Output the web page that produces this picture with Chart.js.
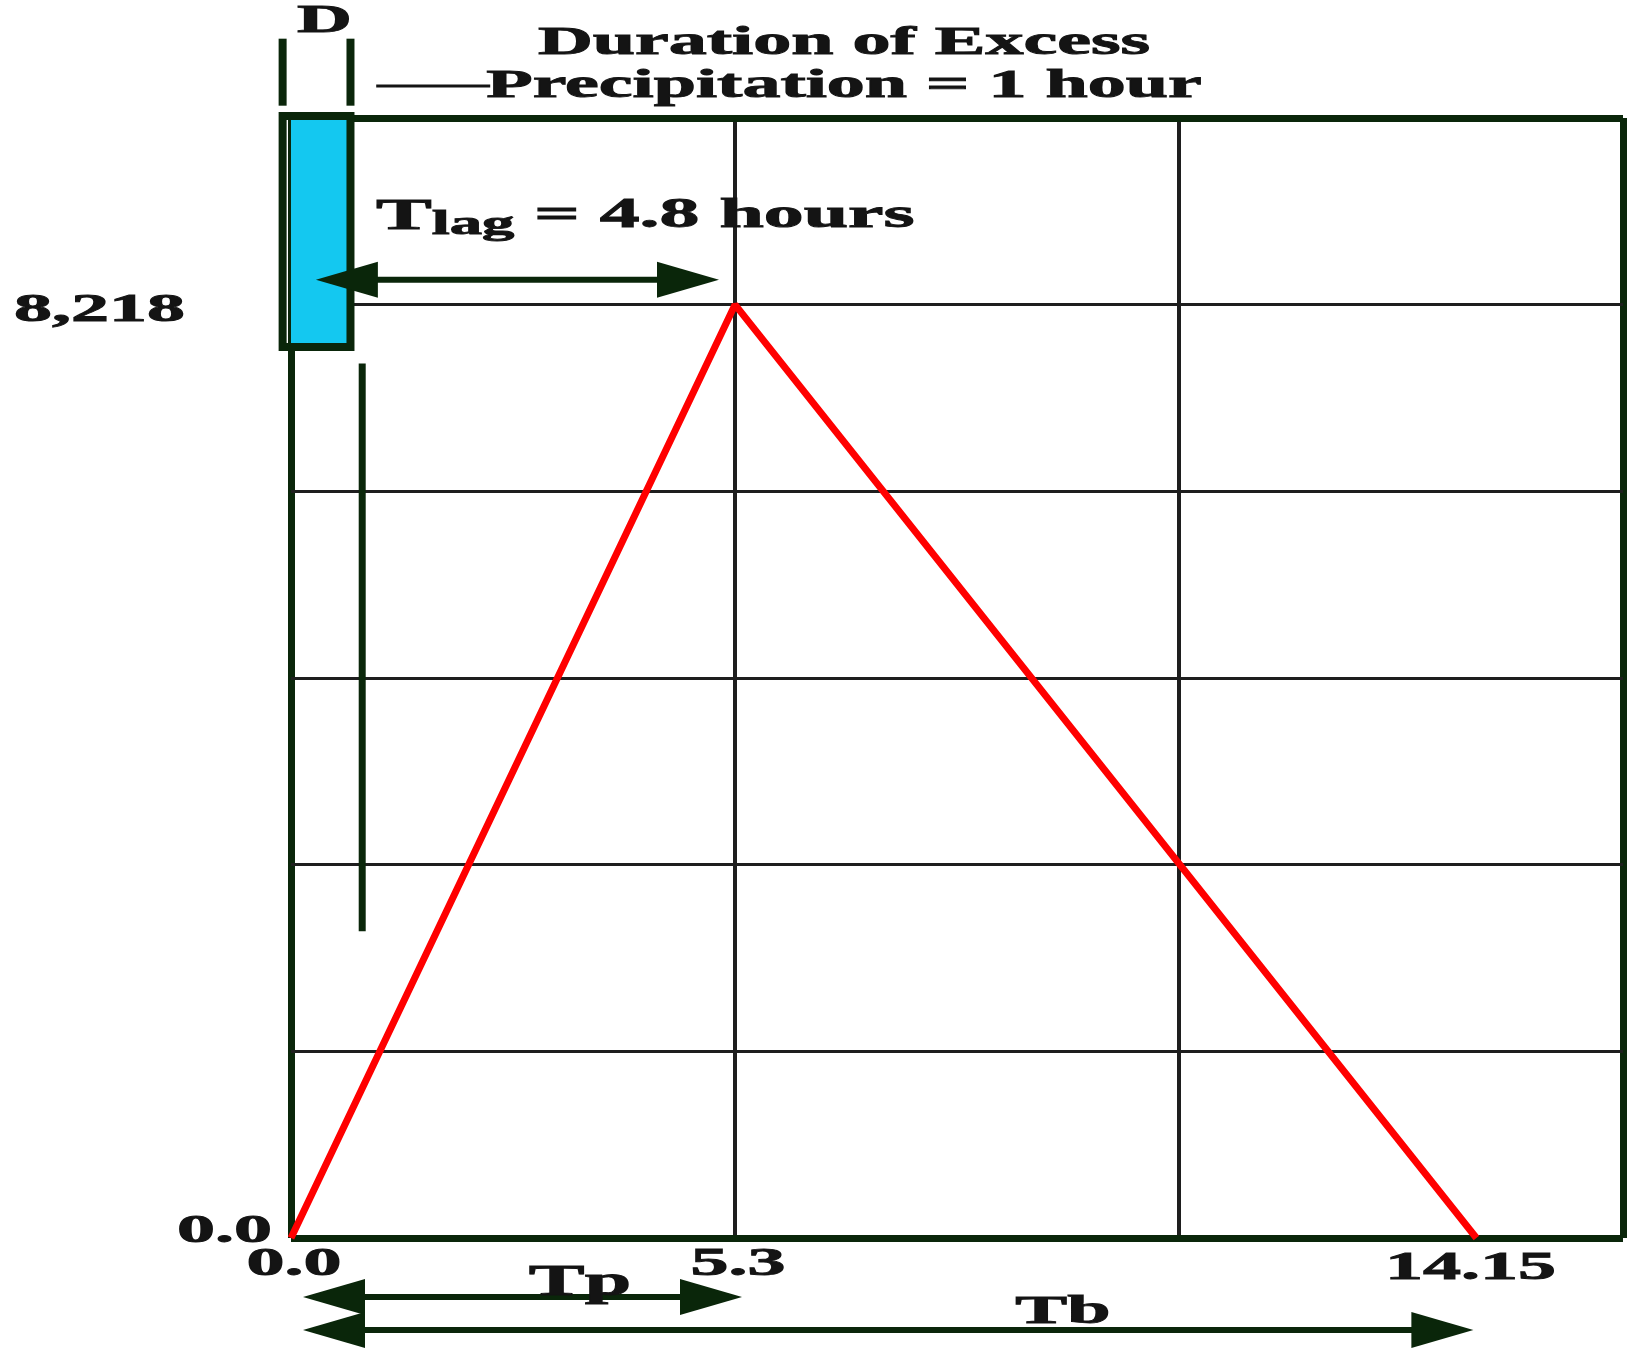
<!DOCTYPE html>
<html>
<head>
<meta charset="utf-8">
<title>Unit hydrograph</title>
<script src="https://cdn.jsdelivr.net/npm/chart.js@4.4.1/dist/chart.umd.min.js"></script>
<style>
    html, body { margin: 0; padding: 0; background: #fff; }
    #wrap { width: 1627px; height: 1354px; position: relative; }
</style>
</head>
<body>
<div id="wrap"><canvas id="hydro"></canvas></div>
<script>
// triangular unit hydrograph (hours / cfs)
const hydroTime = [0, 5.3, 14.15];
const hydroFlow = [0, 8218, 0];

const peakTime = 5.3;
const baseTime = 14.15;
const peakFlow = 8218;
const lagTime = 4.8;
const rainDuration = 1;

// excess precipitation block, as drawn on the sketch
const rainTime = [-0.1, 0.71];
const rainFlow = [7845, 9880];
const bracketFlow = [9970, 10560];
const guideTime = [0.85, 0.85];
const guideFlow = [7700, 2700];

// tick labels
const xTickValues = [0, 5.3, 14.15];
const xTickLabels = ['0.0', '5.3', '14.15'];
const yTickValues = [0, 8218];
const yTickLabels = ['0.0', '8,218'];

// grid: three columns, six rows
const xGrid = [0, 5.3, 10.6, 15.9];
const yGrid = [0, 1, 2, 3, 4, 5, 6].map(i => i * peakFlow / 5);

const DARK = '#0a260a';
const GRID = '#1e1e1e';
const INK = '#141414';
const STRETCH = 1.9;

function pts(xs, ys) {
    return xs.map((x, i) => ({ x: x, y: ys[i] }));
}

function wideText(ctx, text, x, y, size, align) {
    ctx.save();
    ctx.font = 'bold ' + size + 'px "Liberation Serif", "Times New Roman", serif';
    ctx.textBaseline = 'middle';
    ctx.textAlign = 'left';
    ctx.fillStyle = INK;
    ctx.strokeStyle = INK;
    ctx.lineWidth = 0.9;
    const w = ctx.measureText(text).width * STRETCH;
    let x0 = x;
    if (align === 'center') x0 = x - w / 2;
    if (align === 'right') x0 = x - w;
    ctx.translate(x0, y);
    ctx.scale(STRETCH, 1);
    ctx.fillText(text, 0, 0);
    ctx.strokeText(text, 0, 0);
    ctx.restore();
    return w;
}

function head(ctx, tip, y, dir) {
    ctx.beginPath();
    ctx.moveTo(tip, y);
    ctx.lineTo(tip + dir * 62, y - 18);
    ctx.lineTo(tip + dir * 62, y + 18);
    ctx.closePath();
    ctx.fill();
}

function arrow(ctx, x1, x2, y) {
    ctx.save();
    ctx.strokeStyle = DARK;
    ctx.fillStyle = DARK;
    ctx.lineWidth = 6;
    ctx.beginPath();
    ctx.moveTo(x1 + 30, y);
    ctx.lineTo(x2 - 30, y);
    ctx.stroke();
    head(ctx, x1, y, 1);
    head(ctx, x2, y, -1);
    ctx.restore();
}

const annotations = {
    id: 'annotations',
    afterDraw(chart) {
        const ctx = chart.ctx;
        const xs = chart.scales.x;
        const ys = chart.scales.y;
        const bottom = ys.getPixelForValue(0);

        // tick labels
        const yGap = [19, 106];
        const yShift = [-6, 6];
        yTickValues.forEach((v, i) => {
            wideText(ctx, yTickLabels[i], xs.left - yGap[i], ys.getPixelForValue(v) + yShift[i], 40, 'right');
        });
        const xShift = [3, 3, -6];
        const xDrop = [27, 27, 31];
        xTickValues.forEach((v, i) => {
            wideText(ctx, xTickLabels[i], xs.getPixelForValue(v) + xShift[i], bottom + xDrop[i], 40, 'center');
        });

        // title over the rain block
        const midX = (xs.left + xs.right) / 2 - 113;
        wideText(ctx, 'Duration of Excess', midX, 44, 40, 'center');
        wideText(ctx, 'Precipitation = ' + rainDuration + ' hour', midX, 87, 40, 'center');
        wideText(ctx, 'D', (xs.getPixelForValue(rainTime[0]) + xs.getPixelForValue(rainTime[1])) / 2 + 8, 22, 40, 'center');

        // leader line into the title
        const gx = xs.getPixelForValue(guideTime[0]);
        ctx.save();
        ctx.strokeStyle = INK;
        ctx.lineWidth = 3;
        ctx.beginPath();
        ctx.moveTo(gx + 14, 86);
        ctx.lineTo(gx + 128, 86);
        ctx.stroke();
        ctx.restore();

        // Tlag label and arrow
        const peakY = ys.getPixelForValue(peakFlow);
        let tx = 376;
        tx += wideText(ctx, 'T', tx, 218, 44, 'left');
        tx += wideText(ctx, 'lag', tx, 225, 34, 'left');
        wideText(ctx, ' = ' + lagTime + ' hours', tx, 216, 42, 'left');
        arrow(ctx, xs.getPixelForValue(peakTime - lagTime) - 17, xs.getPixelForValue(peakTime) - 16, peakY - 25);

        // Tp and Tb
        const x0 = xs.getPixelForValue(0);
        arrow(ctx, x0 + 12, xs.getPixelForValue(peakTime) + 7, bottom + 59);
        wideText(ctx, 'Tp', 580, bottom + 46, 44, 'center');
        arrow(ctx, x0 + 12, xs.getPixelForValue(baseTime) - 3, bottom + 92);
        wideText(ctx, 'Tb', 1063, bottom + 74, 41, 'center');
    }
};

const edgeX = c => c.index === 0 || c.index === xGrid.length - 1;
const edgeY = c => c.index === 0 || c.index === yGrid.length - 1;

new Chart(document.getElementById('hydro'), {
    type: 'line',
    data: {
        datasets: [{
            label: 'Unit hydrograph',
            data: pts(hydroTime, hydroFlow),
            borderColor: '#ff0000',
            borderWidth: 7,
            borderJoinStyle: 'bevel',
            pointRadius: 0,
            fill: false
        }, {
            label: 'Excess precipitation',
            data: pts([rainTime[1], rainTime[1], rainTime[0], rainTime[0], rainTime[1]],
                      [rainFlow[0], rainFlow[1], rainFlow[1], rainFlow[0], rainFlow[0]]),
            borderColor: DARK,
            backgroundColor: '#14c8f0',
            borderWidth: 8,
            borderCapStyle: 'square',
            borderJoinStyle: 'miter',
            pointRadius: 0,
            fill: 'shape',
            clip: false
        }, {
            label: 'D left',
            data: pts([rainTime[0], rainTime[0]], bracketFlow),
            borderColor: DARK,
            borderWidth: 8,
            pointRadius: 0,
            fill: false,
            clip: false
        }, {
            label: 'D right',
            data: pts([rainTime[1], rainTime[1]], bracketFlow),
            borderColor: DARK,
            borderWidth: 8,
            pointRadius: 0,
            fill: false,
            clip: false
        }, {
            label: 'guide',
            data: pts(guideTime, guideFlow),
            borderColor: DARK,
            borderWidth: 7,
            pointRadius: 0,
            fill: false,
            clip: false
        }]
    },
    options: {
        responsive: true,
        maintainAspectRatio: false,
        animation: false,
        devicePixelRatio: 1,
        layout: {
            padding: { left: 291, right: 4, top: 118, bottom: 116 }
        },
        plugins: {
            legend: { display: false },
            tooltip: { enabled: false }
        },
        scales: {
            x: {
                type: 'linear',
                bounds: 'data',
                afterDataLimits: function(s) { s.min = 0; s.max = xGrid[xGrid.length - 1]; },
                afterBuildTicks: function(s) { s.ticks = xGrid.map(v => ({ value: v })); },
                ticks: { display: false },
                border: { display: false },
                grid: {
                    drawTicks: false,
                    color: c => edgeX(c) ? DARK : GRID,
                    lineWidth: c => edgeX(c) ? 7 : 4
                }
            },
            y: {
                type: 'linear',
                bounds: 'data',
                afterDataLimits: function(s) { s.min = 0; s.max = yGrid[yGrid.length - 1]; },
                afterBuildTicks: function(s) { s.ticks = yGrid.map(v => ({ value: v })); },
                ticks: { display: false },
                border: { display: false },
                grid: {
                    drawTicks: false,
                    color: c => edgeY(c) ? DARK : GRID,
                    lineWidth: c => edgeY(c) ? 7 : 3
                }
            }
        }
    },
    plugins: [annotations]
});
</script>
</body>
</html>
